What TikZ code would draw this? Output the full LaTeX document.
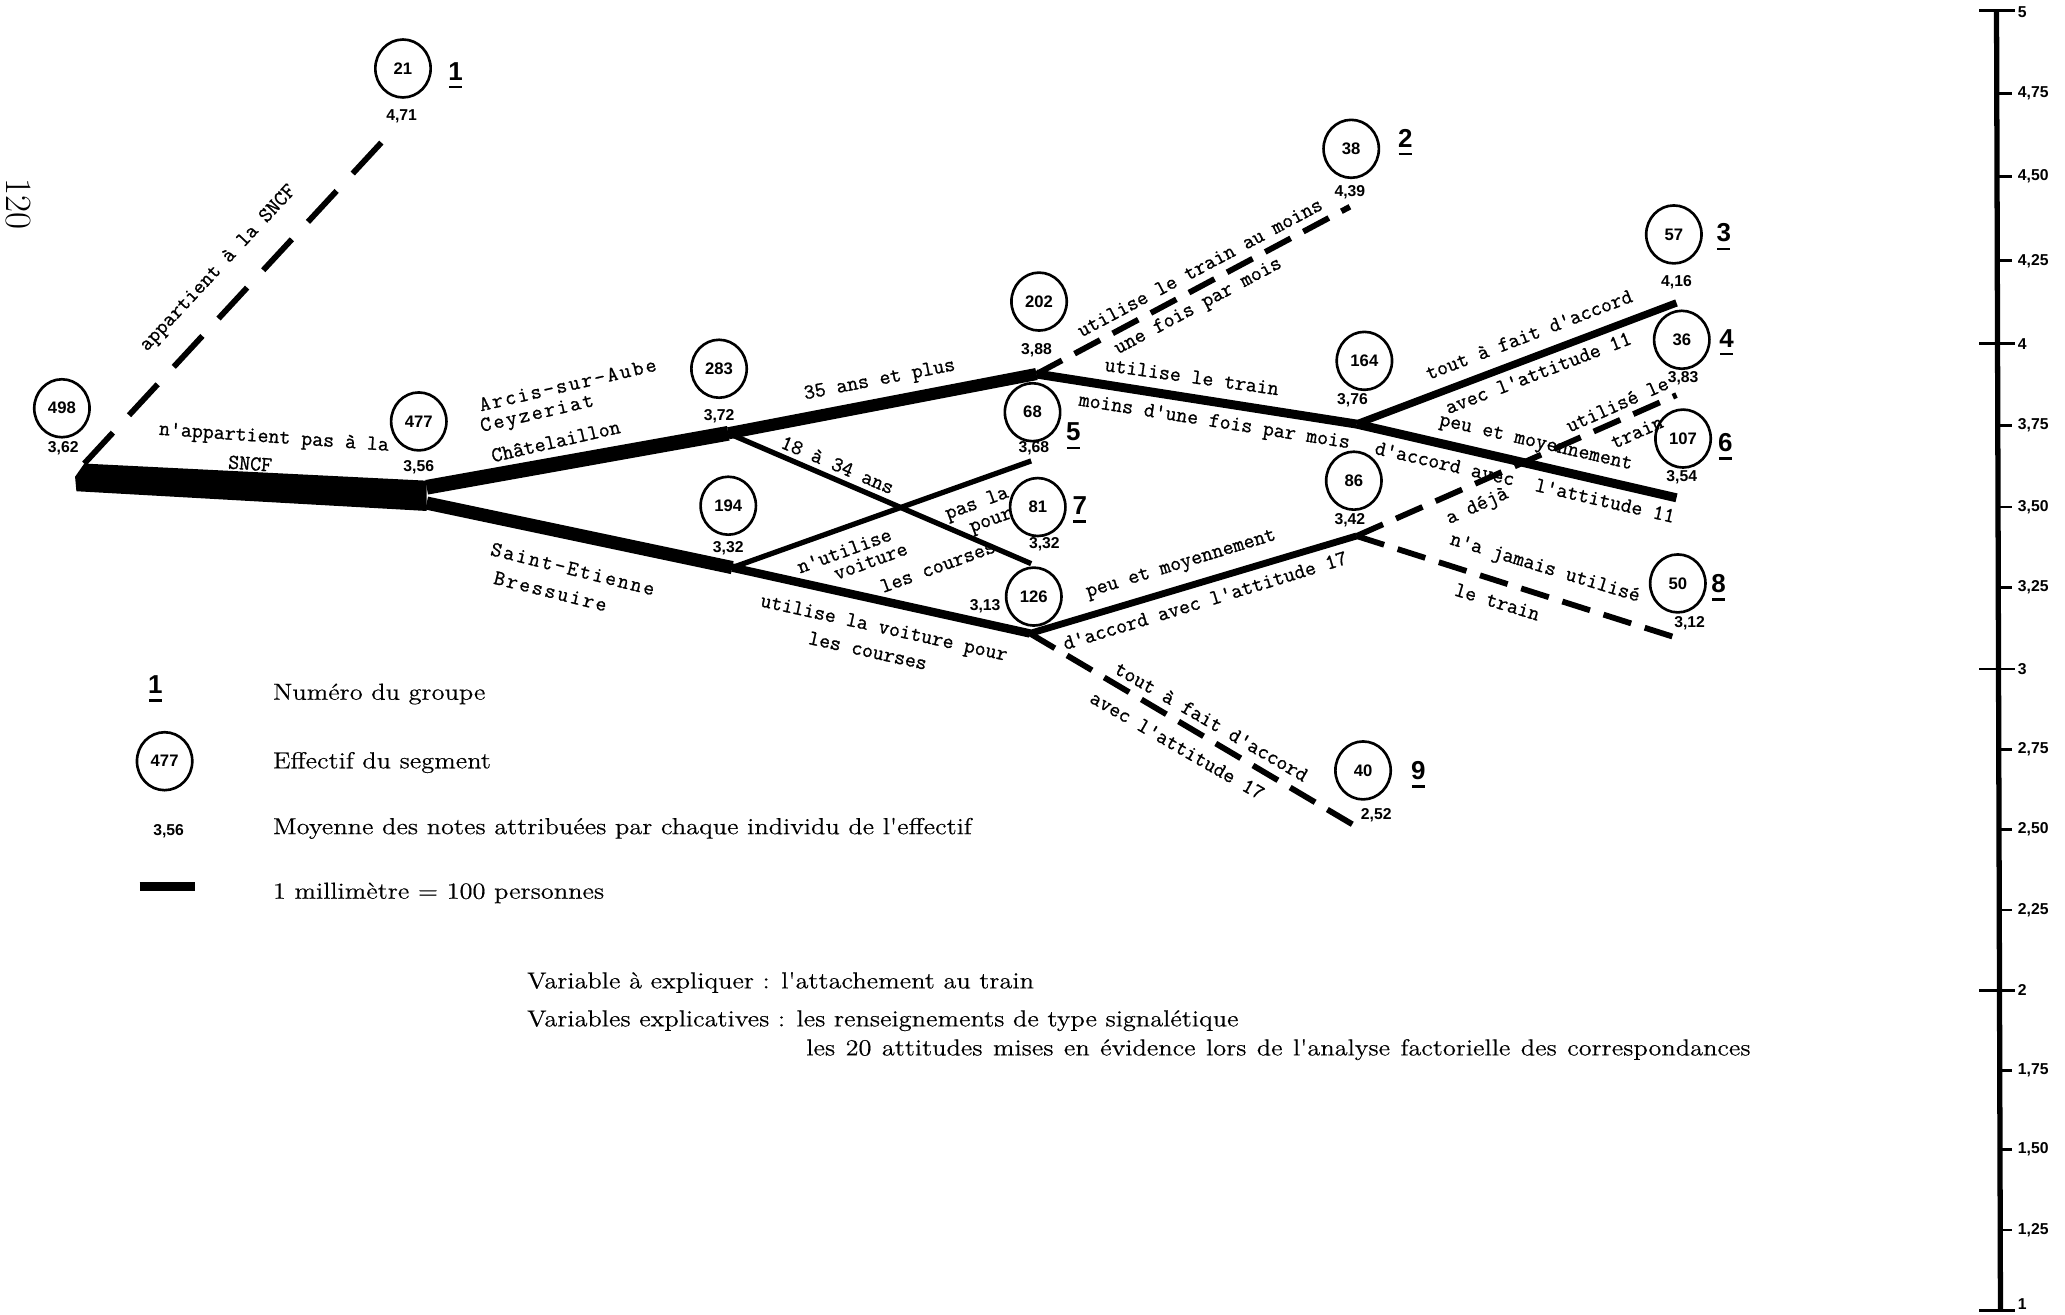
\documentclass[tikz,border=0pt]{standalone}
\usepackage{fontspec}
\usetikzlibrary{shapes.geometric}
\newfontfamily\numfont{Liberation Sans}
\newfontfamily\legfont{Latin Modern Roman}[FakeStretch=1.14, FakeBold=0.4]
\newfontfamily\twfont{Latin Modern Mono}[FakeBold=0.9]
\newfontfamily\twwide{Latin Modern Mono}[FakeBold=0.9, LetterSpace=10]
% group number with a short thick rule beneath it
\newcommand\gnum[1]{\shortstack{#1\\\rule{0.5em}{1.3pt}}}

\begin{document}
\begin{tikzpicture}[x=0.025cm, y=-0.025cm,
  cnt/.style={draw, ellipse, line width=0.05cm, minimum width=1.05cm, minimum height=1.1cm,
              inner sep=0pt, font=\numfont\bfseries\fontsize{9}{10}\selectfont},
  val/.style={inner sep=0pt, font=\numfont\bfseries\fontsize{8.5}{10}\selectfont},
  grp/.style={inner sep=0pt, font=\numfont\bfseries\fontsize{14}{15}\selectfont},
  lab/.style={inner sep=0pt, font=\twfont\fontsize{11.5}{13}\selectfont},
  labw/.style={inner sep=0pt, font=\twwide\fontsize{11.5}{13}\selectfont},
  leg/.style={inner sep=0pt, anchor=west, font=\legfont\fontsize{12.5}{15}\selectfont},
  seg/.style={line width=#1},
  dashlong/.style={line width=0.11cm, dash pattern=on 0.8cm off 0.45cm},
  dashshort/.style={line width=0.11cm, dash pattern=on 0.55cm off 0.27cm},
  tickline/.style={line width=0.05cm},
  axlab/.style={anchor=west, inner sep=0pt, font=\numfont\bfseries\fontsize{8.5}{10}\selectfont}
]
\useasboundingbox (0,0) rectangle (1568,998);
\fill[white] (0,0) rectangle (1568,998);

% page number
\node[rotate=-90, inner sep=0pt, font=\rmfamily\fontsize{20}{22}\selectfont] (pg) at (14,155) {120};

% ---------- junctions and branch ends ----------
\coordinate (r0)   at (64,352);
\coordinate (jA)   at (324,370);
\coordinate (jS)   at (324,382);
\coordinate (j283) at (553,329);
\coordinate (j194) at (556,431);
\coordinate (j202) at (787,284);
\coordinate (e68)  at (783,350);
\coordinate (e81)  at (783,428);
\coordinate (j126) at (782,481);
\coordinate (j164) at (1030,322);
\coordinate (j86)  at (1030,407);
\coordinate (e21)  at (300,97);
\coordinate (e38)  at (1025,157);
\coordinate (e57)  at (1273,230);
\coordinate (e36)  at (1273,300);
\coordinate (e107) at (1273,378);
\coordinate (e50)  at (1272,484);
\coordinate (e40)  at (1027,626);

% ---------- segments ----------
\fill (58,373) -- (57,362) -- (r0) -- (324,365) -- (324,388) -- cycle;
\draw[seg=0.1cm] (j283) -- (e81);
\draw[seg=0.1cm] (j194) -- (e68);
\draw[seg=0.28cm] (jA) -- (j283);
\draw[seg=0.23cm] (j283) -- (j202);
\draw[seg=0.25cm] (jS) -- (j194);
\draw[seg=0.16cm] (j194) -- (j126);
\draw[seg=0.17cm] (j202) -- (j164);
\draw[seg=0.14cm] (j164) -- (e57);
\draw[seg=0.17cm] (j164) -- (e107);
\draw[seg=0.13cm] (j126) -- (j86);
\draw[dashlong]  (r0) -- (e21);
\draw[dashshort] (j202) -- (e38);
\draw[dashshort] (j86) -- (e36);
\draw[dashshort] (j86) -- (e50);
\draw[dashshort] (j126) -- (e40);

% ---------- segment sizes and means ----------
\node[cnt] (n498) at (47,310) {498};   \node[val] (v498) at (48,340) {3,62};
\node[cnt] (n21)  at (306,52) {21};    \node[val] (v21)  at (305,88) {4,71};
\node[cnt] (n477) at (318,320) {477};  \node[val] (v477) at (318,355) {3,56};
\node[cnt] (n283) at (546,280) {283};  \node[val] (v283) at (546,316) {3,72};
\node[cnt] (n194) at (553,384) {194};  \node[val] (v194) at (553,416) {3,32};
\node[cnt] (n202) at (789,229) {202};  \node[val] (v202) at (787,266) {3,88};
\node[cnt] (n68)  at (784,313) {68};   \node[val] (v68)  at (785,340) {3,68};
\node[cnt] (n81)  at (788,385) {81};   \node[val] (v81)  at (793,413) {3,32};
\node[cnt] (n126) at (785,453) {126};  \node[val] (v126) at (748,460) {3,13};
\node[cnt] (n38)  at (1026,113) {38};  \node[val] (v38)  at (1025,146) {4,39};
\node[cnt] (n164) at (1036,274) {164}; \node[val] (v164) at (1027,304) {3,76};
\node[cnt] (n86)  at (1028,365) {86};  \node[val] (v86)  at (1025,395) {3,42};
\node[cnt] (n57)  at (1271,178) {57};  \node[val] (v57)  at (1273,214) {4,16};
\node[cnt] (n36)  at (1277,258) {36};  \node[val] (v36)  at (1278,287) {3,83};
\node[cnt] (n107) at (1278,333) {107}; \node[val] (v107) at (1277,362) {3,54};
\node[cnt] (n50)  at (1274,443) {50};  \node[val] (v50)  at (1283,473) {3,12};
\node[cnt] (n40)  at (1035,585) {40};  \node[val] (v40)  at (1045,619) {2,52};

% ---------- group numbers ----------
\node[grp] (g1) at (346,57)   {\gnum{1}};
\node[grp] (g2) at (1067,108) {\gnum{2}};
\node[grp] (g3) at (1309,180) {\gnum{3}};
\node[grp] (g4) at (1311,260) {\gnum{4}};
\node[grp] (g5) at (815,331)  {\gnum{5}};
\node[grp] (g6) at (1310,339) {\gnum{6}};
\node[grp] (g7) at (820,387)  {\gnum{7}};
\node[grp] (g8) at (1305,446) {\gnum{8}};
\node[grp] (g9) at (1077,588) {\gnum{9}};

% ---------- branch labels ----------
\node[lab, rotate=47]  (t1)  at (166,204) {appartient à la SNCF};
\node[lab, rotate=-4]  (t2)  at (208,333) {n'appartient pas à la};
\node[lab, rotate=-4]  (t3)  at (190,352) {SNCF};
\node[labw, rotate=13] (t4)  at (431,292) {Arcis-sur-Aube};
\node[labw, rotate=13] (t5)  at (408,315) {Ceyzeriat};
\node[lab, rotate=13]  (t6)  at (422,335) {Châtelaillon};
\node[labw, rotate=-14] (t7) at (435,432) {Saint-Etienne};
\node[labw, rotate=-14] (t8) at (418,449) {Bressuire};
\node[lab, rotate=11]  (t9)  at (668,289) {35 ans et plus};
\node[lab, rotate=-23] (t10) at (636,353) {18 à 34 ans};
\node[lab, rotate=20]  (t11) at (641,418) {n'utilise};
\node[lab, rotate=20]  (t12) at (742,383) {pas la};
\node[lab, rotate=20]  (t13) at (661,426) {voiture};
\node[lab, rotate=20]  (t14) at (753,397) {pour};
\node[lab, rotate=20]  (t15) at (712,430) {les courses};
\node[lab, rotate=-12.5] (t16) at (671,478) {utilise la voiture pour};
\node[lab, rotate=-12.5] (t17) at (659,494) {les courses};
\node[lab, rotate=28]  (t18) at (911,203) {utilise le train au moins};
\node[lab, rotate=28]  (t19) at (910,233) {une fois par mois};
\node[lab, rotate=-8]  (t20) at (905,286) {utilise le train};
\node[lab, rotate=-9]  (t21) at (922,321) {moins d'une fois par mois};
\node[lab, rotate=21]  (t22) at (1161,254) {tout à fait d'accord};
\node[lab, rotate=21]  (t23) at (1168,283) {avec l'attitude 11};
\node[lab, rotate=-13] (t24) at (1166,337) {peu et moyennement};
\node[lab, rotate=-13] (t25) at (1158,366) {d'accord avec\ \ l'attitude 11};
\node[lab, rotate=24]  (t26) at (1228,307) {utilisé le};
\node[lab, rotate=24]  (t27) at (1243,328) {train};
\node[lab, rotate=24]  (t28) at (1122,385) {a déjà};
\node[lab, rotate=-17] (t29) at (1173,432) {n'a jamais utilisé};
\node[lab, rotate=-17] (t30) at (1137,457) {le train};
\node[lab, rotate=17]  (t31) at (897,429) {peu et moyennement};
\node[lab, rotate=17]  (t32) at (915,456) {d'accord avec l'attitude 17};
\node[lab, rotate=-30] (t33) at (920,548) {tout à fait d'accord};
\node[lab, rotate=-30] (t34) at (894,566) {avec l'attitude 17};

% ---------- legend ----------
\node[grp] (lg1) at (118,523) {\gnum{1}};
\node[cnt] (lg477) at (125,578) {477};
\node[val] (lg356) at (128,631) {3,56};
\coordinate (lbarA) at (106,673);
\coordinate (lbarB) at (148,673);
\draw[line width=0.16cm] (lbarA) -- (lbarB);
\node[leg] (lt1) at (207,527) {Numéro du groupe};
\node[leg] (lt2) at (207,579) {Effectif du segment};
\node[leg] (lt3) at (207,629) {Moyenne des notes attribuées par chaque individu de l'effectif};
\node[leg] (lt4) at (207,678) {1 millimètre = 100 personnes};
\node[leg] (ft1) at (400,746) {Variable à expliquer : l'attachement au train};
\node[leg] (ft2) at (400,775) {Variables explicatives : les renseignements de type signalétique};
\node[leg] (ft3) at (612,797) {\spaceskip=0.45em les 20 attitudes mises en évidence lors de l'analyse factorielle des correspondances};

% ---------- scale of means ----------
\coordinate (axtop) at (1516,8);
\coordinate (axbot) at (1519,996);
\draw[line width=0.1cm] (axtop) -- (axbot);
\foreach \y in {8,261,508,752,995}
  \draw[tickline] (1503,\y) -- (1530,\y);
\foreach \y in {71,134,198,323,385,446,569,630,691,813,873,934}
  \draw[tickline] (1517,\y) -- (1528,\y);
\foreach \y/\t [count=\i] in {9/5, 71/{4,75}, 134/{4,50}, 198/{4,25}, 261/4, 323/{3,75},
    385/{3,50}, 446/{3,25}, 508/3, 569/{2,75}, 630/{2,50}, 691/{2,25}, 752/2,
    813/{1,75}, 873/{1,50}, 934/{1,25}, 990/1}
  \node[axlab] (ax\i) at (1532,\y) {\t};
\end{tikzpicture}
\end{document}
